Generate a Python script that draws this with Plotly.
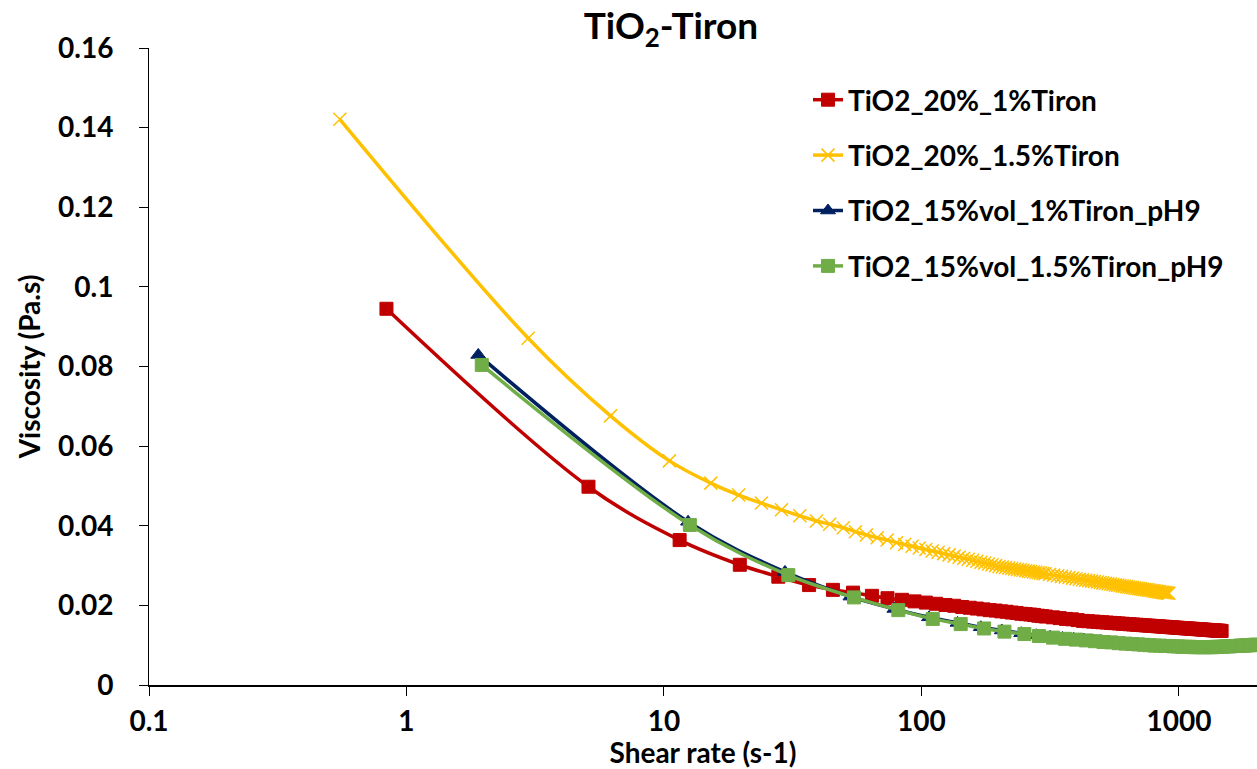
import plotly.graph_objects as go

# ---------------- data ----------------
red_name = "TiO2_20%_1%Tiron"
red_x = [0.836, 5.09, 11.5, 19.7, 27.8, 36.6, 45.3, 54.2, 64.2, 73.8,
         84, 94, 104, 114, 124, 134, 144, 154, 164, 174, 184, 194, 204, 214, 224, 234, 244, 254, 264, 274, 284, 294, 304,
         324, 344, 364, 384, 404, 424, 444, 464, 484, 504, 524, 544, 564, 584, 604, 624, 644, 664, 684, 704, 724, 744,
         764, 784, 804, 824, 844, 864, 884, 904, 924, 944, 964, 984, 1004, 1024, 1044, 1064, 1084, 1104, 1124, 1144,
         1164, 1184, 1204, 1224, 1244, 1264, 1284, 1304, 1324, 1344, 1364, 1384, 1404, 1424, 1444, 1464]
red_y = [0.0945, 0.0498, 0.0364, 0.0302, 0.0272, 0.0251, 0.0239, 0.0232, 0.0224, 0.0218,
         0.0214, 0.0210, 0.0207, 0.0204, 0.0201, 0.0199, 0.0196, 0.0194, 0.0192, 0.0190, 0.0188, 0.0187, 0.0185,
         0.0184, 0.0182, 0.0181, 0.0179, 0.0178, 0.0177, 0.0176, 0.0174, 0.0173, 0.0172,
         0.0170, 0.0168, 0.0166, 0.0165, 0.0163, 0.0161, 0.01602, 0.01593, 0.01585, 0.01576, 0.01568, 0.01560,
         0.01553, 0.01546, 0.01539, 0.01532, 0.01526, 0.01520, 0.01514, 0.01508, 0.01502, 0.01496, 0.01491, 0.01486,
         0.01481, 0.01476, 0.01471, 0.01466, 0.01461, 0.01457, 0.01452, 0.01448, 0.01444, 0.01439, 0.01435, 0.01431,
         0.01427, 0.01423, 0.01420, 0.01416, 0.01412, 0.01409, 0.01405, 0.01402, 0.01398, 0.01395, 0.01392, 0.01388,
         0.01385, 0.01382, 0.01379, 0.01376, 0.01373, 0.01370, 0.01367, 0.01364, 0.01361, 0.01358]

yel_name = "TiO2_20%_1.5%Tiron"
yel_x = [0.551, 2.97, 6.2, 10.5, 15.2, 19.5, 23.9, 28.6, 33.7, 39.1, 44.0, 49.7, 55.4, 61.1, 67.3, 73.6,
         80, 86, 92, 98, 104, 110, 116, 122, 128, 134, 140, 146, 152, 158, 164, 170, 176, 182, 188, 194, 200,
         206, 212, 218, 224, 230, 236, 242, 248, 254, 260, 266, 272, 278, 284, 290, 296, 302,
         314, 326, 338, 350, 362, 374, 386, 398, 410, 422, 434, 446, 458, 470, 482, 494, 506, 518, 530, 542,
         554, 566, 578, 590, 602, 614, 626, 638, 650, 662, 674, 686, 698, 710, 722, 734, 746, 758, 770, 782,
         794, 806, 818, 830, 842, 854, 866, 878, 890, 902, 914]
yel_y = [0.1421, 0.0871, 0.0676, 0.0563, 0.0507, 0.0477, 0.0457, 0.0440, 0.0425, 0.0412, 0.0404, 0.0395,
         0.0385, 0.0377, 0.0370, 0.0364,
         0.03575, 0.03528, 0.03484, 0.03443, 0.03404, 0.03368, 0.03333, 0.03300, 0.03269, 0.03239, 0.03211,
         0.03183, 0.03157, 0.03132, 0.03108, 0.03084, 0.03062, 0.03040, 0.03019, 0.02998, 0.02978,
         0.02963, 0.02950, 0.02938, 0.02926, 0.02914, 0.02903, 0.02892, 0.02881, 0.02870, 0.02860, 0.02850,
         0.02840, 0.02830, 0.02821, 0.02811, 0.02802, 0.02794,
         0.02776, 0.02760, 0.02744, 0.02728, 0.02713, 0.02699, 0.02685, 0.02671, 0.02658, 0.02645, 0.02633,
         0.02621, 0.02609, 0.02598, 0.02586, 0.02576, 0.02565, 0.02555, 0.02544, 0.02535, 0.02525, 0.02515,
         0.02506, 0.02497, 0.02488, 0.02479, 0.02471, 0.02462, 0.02454, 0.02446, 0.02438, 0.02430, 0.02422,
         0.02415, 0.02407, 0.02400, 0.02393, 0.02386, 0.02379, 0.02372, 0.02365, 0.02358, 0.02352, 0.02345,
         0.02339, 0.02332, 0.02326, 0.02320, 0.02314, 0.02308, 0.02303]

blu_name = "TiO2_15%vol_1%Tiron_pH9"
blu_x = [1.90, 12.4, 29.5, 53.0, 78.5, 107, 138, 170, 205, 244, 279,
         316, 353, 390, 427, 464, 501, 538, 575, 612, 649, 686, 723, 760, 797, 834, 871, 908, 945, 982, 1019,
         1056, 1093, 1130, 1167, 1204, 1241, 1278, 1315, 1352, 1389, 1426, 1463, 1500, 1537, 1574, 1611, 1648,
         1685, 1722, 1759, 1796, 1833, 1870, 1907, 1944, 1981, 2018]
blu_y = [0.0829, 0.0410, 0.0284, 0.0222, 0.0191, 0.0170, 0.0156, 0.0145, 0.0137, 0.0130, 0.0125,
         0.0121, 0.0118, 0.0116, 0.0114, 0.0112, 0.0110, 0.0108, 0.0106, 0.0105, 0.0104,
         0.0103, 0.0102, 0.0101, 0.0100, 0.0099, 0.0099, 0.0098, 0.0098, 0.0097, 0.0097,
         0.0096, 0.0096, 0.0096, 0.0095, 0.0095, 0.0095, 0.0095, 0.0095, 0.0095, 0.0096,
         0.0096, 0.0096, 0.0097, 0.0097, 0.0097, 0.0098, 0.0098, 0.0098, 0.0099, 0.0099,
         0.0099, 0.0100, 0.0100, 0.0100, 0.0101, 0.0101, 0.0101]

grn_name = "TiO2_15%vol_1.5%Tiron_pH9"
grn_x = [1.96, 12.6, 30.4, 54.7, 81.3, 110.6, 142, 175, 210, 251, 286,
         324, 361, 398, 435, 472, 509, 546, 583, 620, 657, 694, 731, 768, 805, 842, 879, 916, 953, 990, 1027,
         1064, 1101, 1138, 1175, 1212, 1249, 1286, 1323, 1360, 1397, 1434, 1471, 1508, 1545, 1582, 1619, 1656,
         1693, 1730, 1767, 1804, 1841, 1878, 1915, 1952, 1989, 2026]
grn_y = [0.0804, 0.0402, 0.0276, 0.0220, 0.0188, 0.0166, 0.0153, 0.0142, 0.0134, 0.0128, 0.0123,
         0.0119, 0.0116, 0.0114, 0.0112, 0.0110, 0.0108, 0.0107, 0.0105, 0.0104, 0.0103,
         0.0102, 0.0101, 0.0100, 0.0099, 0.0099, 0.0098, 0.0098, 0.0097, 0.0097, 0.0096,
         0.0096, 0.0096, 0.0095, 0.0095, 0.0095, 0.0095, 0.0095, 0.0095, 0.0095, 0.0096,
         0.0096, 0.0096, 0.0097, 0.0097, 0.0097, 0.0098, 0.0098, 0.0098, 0.0099, 0.0099,
         0.0099, 0.0100, 0.0100, 0.0100, 0.0101, 0.0101, 0.0101]

x_tickvals = [0.1, 1, 10, 100, 1000]
x_ticktext = ["0.1", "1", "10", "100", "1000"]
y_tickvals = [0, 0.02, 0.04, 0.06, 0.08, 0.1, 0.12, 0.14, 0.16]
y_ticktext = ["0", "0.02", "0.04", "0.06", "0.08", "0.1", "0.12", "0.14", "0.16"]

title_text = "TiO<sub>2</sub>-Tiron"
x_title = "Shear rate (s-1)"
y_title = "Viscosity (Pa.s)"

for a, b in [(red_x, red_y), (yel_x, yel_y), (blu_x, blu_y), (grn_x, grn_y)]:
    assert len(a) == len(b)

# ---------------- figure ----------------
FONT = "Lato"
RED, YEL, BLU, GRN = "#C00000", "#FFC000", "#002060", "#70AD47"

fig = go.Figure()


def add(x, y, name, color, symbol, group, msize=13, mline=1):
    fig.add_trace(go.Scatter(
        x=x, y=y, name=name, mode="lines+markers", legendgroup=group,
        line=dict(color=color, width=3.5, shape="spline", smoothing=1.0),
        marker=dict(symbol=symbol, size=msize, color=color,
                    line=dict(color=color, width=mline)),
    ))


add(red_x, red_y, red_name, RED, "square", "g1")
add(yel_x, yel_y, yel_name, YEL, "x-thin", "g2", msize=13, mline=1.5)
add(blu_x, blu_y, blu_name, BLU, "triangle-up", "g3")
add(grn_x, grn_y, grn_name, GRN, "square", "g4")

tickfont = dict(family=FONT, size=28, color="black", weight="bold")

fig.update_layout(
    width=1257, height=769, autosize=False,
    margin=dict(l=149, r=0, t=48, b=84, pad=0),
    paper_bgcolor="white", plot_bgcolor="white",
    font=dict(family=FONT, color="black"),
    title=dict(text=title_text, font=dict(family=FONT, size=37, color="black", weight="bold"),
               xref="container", x=671 / 1257, xanchor="center",
               yref="container", y=1 - 26 / 769, yanchor="middle"),
    showlegend=True,
    legend=dict(
        x=(808 - 149) / 1108, xanchor="left", y=(685 - 75) / 637, yanchor="top",
        font=dict(family=FONT, size=28, color="black", weight="bold"),
        traceorder="grouped", tracegroupgap=16, bgcolor="rgba(0,0,0,0)", borderwidth=0,
    ),
    xaxis=dict(
        type="log", range=[-1, 3.303], tickvals=x_tickvals, ticktext=x_ticktext,
        ticks="outside", ticklen=9, tickwidth=1, tickcolor="black",
        showline=True, linecolor="black", linewidth=2, showgrid=False, zeroline=False,
        tickfont=tickfont, ticklabelstandoff=1,
        title=dict(text=x_title, font=dict(family=FONT, size=28, color="black", weight="bold"), standoff=7),
    ),
    yaxis=dict(
        range=[0, 0.16], tickvals=y_tickvals, ticktext=y_ticktext,
        ticks="outside", ticklen=9, tickwidth=1, tickcolor="black",
        showline=True, linecolor="black", linewidth=1, showgrid=False, zeroline=False,
        tickfont=tickfont, ticklabelstandoff=20,
        title=dict(text=y_title, font=dict(family=FONT, size=28, color="black", weight="bold"), standoff=9),
    ),
)

fig.write_html(
    "out.html",
    config={"displayModeBar": False},
    post_script="document.body.style.margin='0';document.body.style.padding='0';",
)
